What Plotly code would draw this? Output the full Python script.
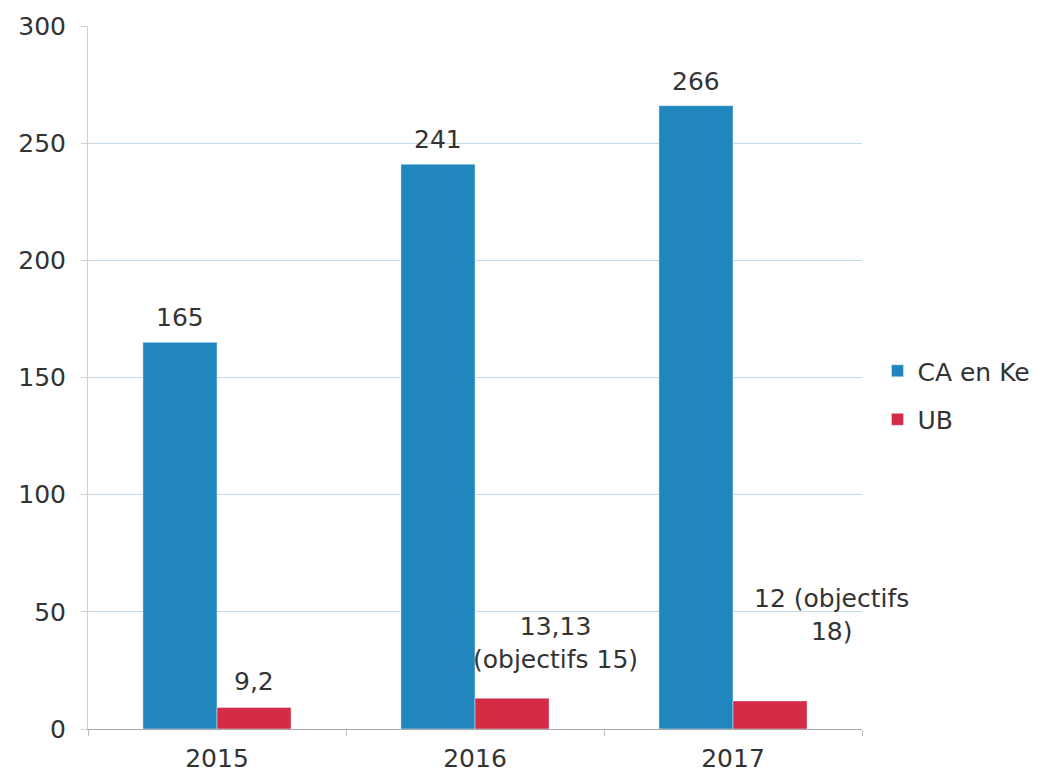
import plotly.graph_objects as go

years = ["2015", "2016", "2017"]
ca_values = [165, 241, 266]
ub_values = [9.2, 13.13, 12]
ca_labels = ["165", "241", "266"]
ub_labels = ["9,2", "13,13<br>(objectifs 15)", "12 (objectifs<br>18)"]
y_ticks = [0, 50, 100, 150, 200, 250, 300]

# label placement offsets (pixels)
ca_xshift = -37
ca_yshift = 8
ub_xshift = [37, 80, 98]
ub_yshift = [9, 22, 53]

FONT = "DejaVu Sans"
TXT = "#333333"
FS = 25

fig = go.Figure()
fig.add_trace(go.Bar(x=years, y=ca_values, name="CA en Ke", marker_color="#2186be",
                     legendgroup="a"))
fig.add_trace(go.Bar(x=years, y=ub_values, name="UB", marker_color="#d42b47",
                     legendgroup="b"))

# annotations on a category axis are placed by category index
for i, (v, lab) in enumerate(zip(ca_values, ca_labels)):
    fig.add_annotation(x=i, y=v, text=lab, showarrow=False, xref="x", yref="y",
                       yanchor="bottom", xanchor="center", xshift=ca_xshift, yshift=ca_yshift,
                       font=dict(size=FS, color=TXT, family=FONT))
for i, (v, lab, xs, ys) in enumerate(zip(ub_values, ub_labels, ub_xshift, ub_yshift)):
    fig.add_annotation(x=i, y=v, text=lab, showarrow=False, xref="x", yref="y",
                       yanchor="bottom", xanchor="center", xshift=xs, yshift=ys,
                       font=dict(size=FS, color=TXT, family=FONT))

# the page body has an 8px margin; margins are set so the plot area lands where the
# reference has it
fig.update_layout(
    width=1039, height=774,
    margin=dict(l=80, r=185, t=18, b=53),
    paper_bgcolor="white", plot_bgcolor="white",
    barmode="group", bargap=0.426, bargroupgap=0,
    font=dict(family=FONT, size=FS, color=TXT),
    legend=dict(x=1.02, y=0.475, xanchor="left", yanchor="middle",
                font=dict(size=FS, color=TXT, family=FONT), tracegroupgap=13),
    showlegend=True,
)
fig.update_yaxes(range=[0, 300], tickvals=y_ticks, showgrid=True, gridcolor="#c3dbe8",
                 gridwidth=1, zeroline=False, showline=True, linecolor="#cfcfcf",
                 ticks="outside", ticklen=6, tickcolor="#cfcfcf", automargin=False,
                 ticklabelstandoff=10,
                 tickfont=dict(size=FS, color=TXT, family=FONT))
fig.update_xaxes(type="category", range=[-0.5, 2.5], showline=True, linecolor="#a8a8a8",
                 ticks="outside", tickson="boundaries", ticklen=6, tickcolor="#bdbdbd",
                 automargin=False, tickangle=0, ticklabelstandoff=7,
                 tickfont=dict(size=FS, color=TXT, family=FONT))

fig.write_html("out.html")
